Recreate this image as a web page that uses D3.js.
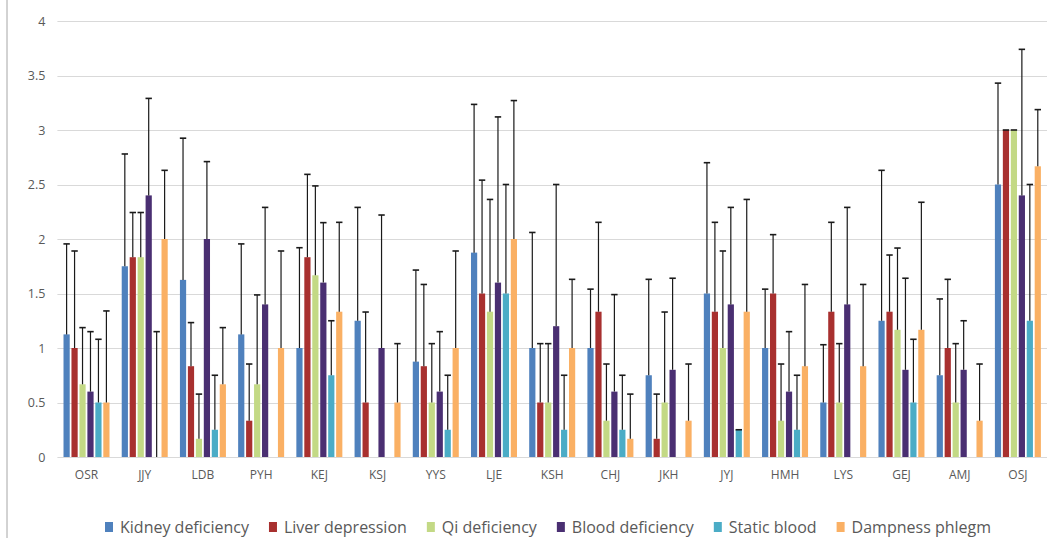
<!DOCTYPE html>
<html>
<head>
<meta charset="utf-8">
<script src="https://cdn.jsdelivr.net/npm/d3@7"></script>
<style>
  html, body { margin: 0; padding: 0; background: #fff; }
  svg { display: block; }
  text { font-family: "Open Sans", "Liberation Sans", sans-serif; }
</style>
</head>
<body>
<svg id="chart" width="1056" height="538"></svg>
<script>
// Patient codes along the x axis
const categories = ["OSR","JJY","LDB","PYH","KEJ","KSJ","YYS","LJE","KSH","CHJ","JKH","JYJ","HMH","LYS","GEJ","AMJ","OSJ"];

// Syndrome series
const seriesNames = ["Kidney deficiency","Liver depression","Qi deficiency","Blood deficiency","Static blood","Dampness phlegm"];
const seriesColors = ["#4F81BD","#A8302F","#C3D985","#4A2F72","#4BACC6","#FAB064"];

// Mean scores per series (same order as categories); null = no bar
const kidney  = [1.125,1.75,1.625,1.125,1.0,1.25,0.875,1.875,1.0,1.0,0.75,1.5,1.0,0.5,1.25,0.75,2.5];
const liver   = [1.0,1.833,0.833,0.333,1.833,0.5,0.833,1.5,0.5,1.333,0.167,1.333,1.5,1.333,1.333,1.0,3.0];
const qi      = [0.667,1.833,0.167,0.667,1.667,null,0.5,1.333,0.5,0.333,0.5,1.0,0.333,0.5,1.167,0.5,3.0];
const blood   = [0.6,2.4,2.0,1.4,1.6,1.0,0.6,1.6,1.2,0.6,0.8,1.4,0.6,1.4,0.8,0.8,2.4];
const statics = [0.5,0.0,0.25,null,0.75,null,0.25,1.5,0.25,0.25,null,0.25,0.25,null,0.5,null,1.25];
const damp    = [0.5,2.0,0.667,1.0,1.333,0.5,1.0,2.0,1.0,0.167,0.333,1.333,0.833,0.833,1.167,0.333,2.667];

// Standard deviations (upper error bars)
const kidneySD  = [0.83,1.03,1.30,0.83,0.92,1.04,0.84,1.36,1.06,0.54,0.88,1.20,0.54,0.53,1.38,0.70,0.93];
const liverSD   = [0.89,0.41,0.40,0.52,0.76,0.83,0.75,1.04,0.54,0.82,0.41,0.82,0.54,0.82,0.52,0.63,0.0];
const qiSD      = [0.52,0.41,0.41,0.82,0.82,null,0.54,1.03,0.54,0.52,0.83,0.89,0.52,0.54,0.75,0.54,0.0];
const bloodSD   = [0.55,0.89,0.71,0.89,0.55,1.22,0.55,1.52,1.30,0.89,0.84,0.89,0.55,0.89,0.84,0.45,1.34];
const staticsSD = [0.58,1.15,0.50,null,0.50,null,0.50,1.00,0.50,0.50,null,0.0,0.50,null,0.58,null,1.25];
const dampSD    = [0.84,0.63,0.52,0.89,0.82,0.54,0.89,1.27,0.63,0.41,0.52,1.03,0.75,0.75,1.17,0.52,0.52];

const yTicks = [0,0.5,1,1.5,2,2.5,3,3.5,4];

const means = [kidney, liver, qi, blood, statics, damp];
const sds = [kidneySD, liverSD, qiSD, bloodSD, staticsSD, dampSD];

const svg = d3.select("#chart");
const plot = { left: 57.4, right: 1047, top: 21, bottom: 457 };

const x = d3.scaleBand().domain(categories).range([plot.left, plot.right]).paddingInner(0).paddingOuter(0);
const groupWidth = 46;
const xs = d3.scaleBand().domain(seriesNames).range([0, groupWidth]).paddingInner(0.22);
const y = d3.scaleLinear().domain([0, 4]).range([plot.bottom, plot.top]);

// frame line on the left edge
svg.append("line").attr("x1", 7).attr("x2", 7).attr("y1", 0).attr("y2", 538)
  .attr("stroke", "#a6a6a6").attr("stroke-width", 1);

// horizontal gridlines
svg.append("g").selectAll("line").data(yTicks.filter(d => d > 0)).join("line")
  .attr("x1", plot.left).attr("x2", plot.right)
  .attr("y1", d => Math.round(y(d)) + 0.5).attr("y2", d => Math.round(y(d)) + 0.5)
  .attr("stroke", "#d9d9d9").attr("stroke-width", 1);

// y axis labels
const yAxis = d3.axisLeft(y).tickValues(yTicks).tickSize(0).tickPadding(0).tickFormat(d3.format("~g"));
const gy = svg.append("g").attr("transform", `translate(${plot.left - 12},0)`).call(yAxis);
gy.select(".domain").remove();
gy.selectAll("text").attr("fill", "#595959").style("font-size", "12.5px")
  .style("font-family", "'Open Sans', sans-serif");

// bars
const flat = [];
categories.forEach((c, i) => {
  seriesNames.forEach((s, j) => {
    flat.push({ cat: c, series: s, j, mean: means[j][i], sd: sds[j][i] });
  });
});
const groupOffset = (x.bandwidth() - groupWidth) / 2;
const barX = d => x(d.cat) + groupOffset + xs(d.series);

svg.append("g").selectAll("rect").data(flat.filter(d => d.mean != null && d.mean > 0)).join("rect")
  .attr("x", barX)
  .attr("width", xs.bandwidth())
  .attr("y", d => y(d.mean))
  .attr("height", d => y(0) - y(d.mean))
  .attr("fill", d => seriesColors[d.j]);

// upper error bars
const eb = svg.append("g").attr("stroke", "#1a1a1a");
const withErr = flat.filter(d => d.mean != null && d.sd != null);
eb.selectAll("line.stem").data(withErr).join("line").attr("class", "stem")
  .attr("x1", d => barX(d) + xs.bandwidth() / 2).attr("x2", d => barX(d) + xs.bandwidth() / 2)
  .attr("y1", d => y(d.mean)).attr("y2", d => y(d.mean + d.sd))
  .attr("stroke-width", 1.2);
eb.selectAll("line.cap").data(withErr).join("line").attr("class", "cap")
  .attr("x1", d => barX(d) + xs.bandwidth() / 2 - 3.2).attr("x2", d => barX(d) + xs.bandwidth() / 2 + 3.2)
  .attr("y1", d => y(d.mean + d.sd)).attr("y2", d => y(d.mean + d.sd))
  .attr("stroke-width", 1.6);

// x axis
svg.append("line").attr("x1", plot.left).attr("x2", plot.right)
  .attr("y1", plot.bottom + 0.5).attr("y2", plot.bottom + 0.5)
  .attr("stroke", "#d9d9d9").attr("stroke-width", 1);
const xAxis = d3.axisBottom(x).tickSize(0).tickPadding(0);
const gx = svg.append("g").attr("transform", `translate(0,${plot.bottom})`).call(xAxis);
gx.select(".domain").remove();
gx.selectAll("text").attr("fill", "#595959").attr("dy", "0").attr("y", 22)
  .style("font-size", "12px").style("font-family", "'Open Sans', sans-serif");

// legend
const legend = svg.append("g").attr("transform", "translate(0,527)");
let lx = 105;
seriesNames.forEach((name, j) => {
  const item = legend.append("g").attr("transform", `translate(${lx},0)`);
  item.append("rect").attr("x", 0).attr("y", -5).attr("width", 8).attr("height", 10)
    .attr("fill", seriesColors[j]);
  const t = item.append("text").attr("x", 15).attr("y", 0).attr("dy", "0.35em")
    .attr("fill", "#595959").style("font-size", "16px").text(name);
  const w = t.node().getComputedTextLength();
  lx += 15 + w + 20;
});
</script>
</body>
</html>
